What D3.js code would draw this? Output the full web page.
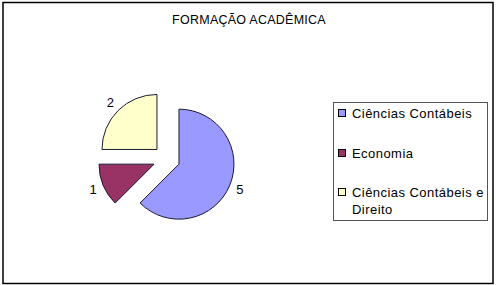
<!DOCTYPE html>
<html>
<head>
<meta charset="utf-8">
<script src="https://cdn.jsdelivr.net/npm/d3@7"></script>
<style>
  body { margin: 0; background: #fff; }
  svg { display: block; font-family: "Liberation Sans", Arial, sans-serif; }
</style>
</head>
<body>
<div id="chart"></div>
<script>
// chart data
const title = "FORMAÇÃO ACADÊMICA";
const categories = ["Ciências Contábeis", "Economia", "Ciências Contábeis e Direito"];
const values = [5, 1, 2];
const colors = ["#9999ff", "#993366", "#ffffcc"];

const width = 499, height = 285;
const svg = d3.select("#chart").append("svg")
    .attr("width", width)
    .attr("height", height);

// outer frame
svg.append("rect")
    .attr("x", 3).attr("y", 2.5)
    .attr("width", 490).attr("height", 281)
    .attr("fill", "#fff")
    .attr("stroke", "#000")
    .attr("stroke-width", 1.5);

svg.append("text")
    .attr("x", 249).attr("y", 24)
    .attr("text-anchor", "middle")
    .style("font-size", "12.5px")
    .style("letter-spacing", "0.25px")
    .text(title);

// pie
const radius = 55;
const explode = 13.5;
const center = [166.5, 159];

const pie = d3.pie().sort(null).value(d => d.value);
const arcs = pie(categories.map((c, i) => ({ name: c, value: values[i], color: colors[i] })));

const arc = d3.arc().innerRadius(0).outerRadius(radius);
const labelArc = d3.arc().innerRadius(66).outerRadius(66);

const pieGroup = svg.append("g")
    .attr("transform", `translate(${center[0]}, ${center[1]})`);

const slice = pieGroup.selectAll("g.slice")
    .data(arcs)
    .join("g")
    .attr("class", "slice")
    .attr("transform", d => {
        const mid = (d.startAngle + d.endAngle) / 2;
        return `translate(${Math.sin(mid) * explode}, ${-Math.cos(mid) * explode})`;
    });

slice.append("path")
    .attr("d", arc)
    .attr("fill", d => d.data.color)
    .attr("stroke", "#1a1a33")
    .attr("stroke-width", 1);

slice.append("text")
    .attr("transform", d => `translate(${labelArc.centroid(d)})`)
    .attr("text-anchor", "middle")
    .attr("dy", "0.35em")
    .style("font-size", "13px")
    .text(d => d.data.value);

// legend
const legend = svg.append("g");
legend.append("rect")
    .attr("x", 333.5).attr("y", 102.5)
    .attr("width", 154).attr("height", 118)
    .attr("fill", "#fff")
    .attr("stroke", "#555")
    .attr("stroke-width", 1);

const rowY = [113, 153, 192];
const item = legend.selectAll("g.item")
    .data(categories)
    .join("g")
    .attr("class", "item")
    .attr("transform", (d, i) => `translate(338, ${rowY[i]})`);

item.append("rect")
    .attr("x", 0.5).attr("y", -3.5)
    .attr("width", 7).attr("height", 7)
    .attr("fill", (d, i) => colors[i])
    .attr("stroke", "#000")
    .attr("stroke-width", 1);

// wrap long label like the original
const wrapped = [["Ciências Contábeis"], ["Economia"], ["Ciências Contábeis e", "Direito"]];
item.append("text")
    .attr("x", 14)
    .attr("y", 4.5)
    .style("font-size", "13px")
    .style("letter-spacing", "0.45px")
    .selectAll("tspan")
    .data((d, i) => wrapped[i])
    .join("tspan")
    .attr("x", 14)
    .attr("dy", (d, j) => j === 0 ? 0 : 17)
    .text(d => d);
</script>
</body>
</html>
